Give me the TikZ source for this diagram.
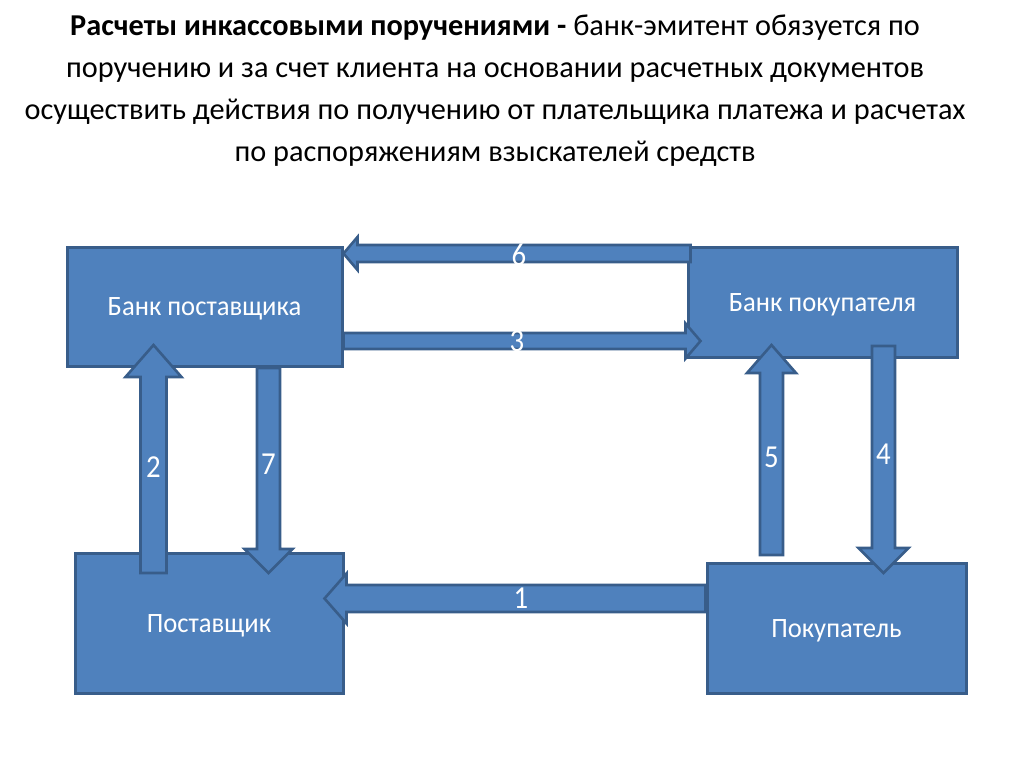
\documentclass[tikz,border=0pt]{standalone}
\usepackage{fontspec}
\setmainfont{Carlito}
\newfontfamily\boxfont{Carlito}[FakeStretch=0.95]
\newfontfamily\numfont{Carlito}[FakeStretch=0.9]
\usetikzlibrary{calc}
\definecolor{boxfill}{HTML}{4F81BD}
\definecolor{boxline}{HTML}{385D8A}
\tikzset{
  box/.style={rectangle, draw=boxline, fill=boxfill, line width=3pt, text=white, font=\boxfont\fontsize{28}{30}\selectfont, inner sep=0pt, text height=18pt, text depth=0pt},
  blk/.style={draw=boxline, fill=boxfill, line width=2.6pt, line join=miter},
  num/.style={text=white, font=\numfont\fontsize{32}{32}\selectfont, inner sep=0pt, text height=20pt, text depth=0pt},
  ttl/.style={anchor=base, font=\fontsize{30.3}{32}\selectfont, inner sep=0pt},
}
\newcommand\blockarr[5]{%
  \coordinate (hb) at ($(#2)!#5pt!(#1)$);
  \draw[blk] ($(#1)!#3pt!90:(#2)$) -- ($(hb)!#3pt!90:(#2)$) -- ($(hb)!#4pt!90:(#2)$) -- (#2)
    -- ($(hb)!#4pt!-90:(#2)$) -- ($(hb)!#3pt!-90:(#2)$) -- ($(#1)!#3pt!-90:(#2)$) -- cycle;}
\begin{document}
\begin{tikzpicture}[x=1pt,y=-1pt]
\useasboundingbox (0,0) rectangle (1024,767);
% title
\node[ttl] (t1) at (495,36) {\textbf{Расчеты инкассовыми поручениями -} банк-эмитент обязуется по};
\node[ttl] (t2) at (495,78) {поручению и за счет клиента на основании расчетных документов};
\node[ttl] (t3) at (495,120) {осуществить действия по получению от плательщика платежа и расчетах};
\node[ttl] (t4) at (495,162) {по распоряжениям взыскателей средств};
% boxes
\node[box, minimum width=275pt, minimum height=119pt] (bps) at (204.5,306.5) {Банк поставщика};
\node[box, minimum width=269pt, minimum height=110pt] (bpk) at (822.5,302) {Банк покупателя};
\node[box, minimum width=268pt, minimum height=140pt] (ps) at (209,623) {Поставщик};
\node[box, minimum width=259pt, minimum height=130pt] (pk) at (836.5,628) {Покупатель};
% arrow end points
\coordinate (a6s) at ([xshift=4pt]bpk.west |- 0,253.5);
\coordinate (a6e) at (bps.east |- 0,253.5);
\coordinate (a3s) at (bps.east |- 0,341);
\coordinate (a3e) at ([xshift=14pt]bpk.west |- 0,341);
\coordinate (a1s) at (pk.west |- 0,598.5);
\coordinate (a1e) at ([xshift=-20pt]ps.east |- 0,598.5);
\coordinate (a2s) at (153.5,573);
\coordinate (a2e) at (153.5,345);
\coordinate (a7s) at (268.5,368);
\coordinate (a7e) at (268.5,573);
\coordinate (a5s) at (771.5,555);
\coordinate (a5e) at (771.5,345);
\coordinate (a4s) at (883.5,346);
\coordinate (a4e) at (883.5,573);
% block arrows
\blockarr{a6s}{a6e}{8.5}{16.5}{14}
\blockarr{a3s}{a3e}{8}{17.5}{15}
\blockarr{a1s}{a1e}{13.5}{25}{22}
\blockarr{a2s}{a2e}{13}{28}{32}
\blockarr{a7s}{a7e}{11.5}{24}{24}
\blockarr{a5s}{a5e}{11.5}{24.5}{28}
\blockarr{a4s}{a4e}{11.5}{25}{25}
% labels
\node[num] (n6) at (519,255) {6};
\node[num] (n3) at (517,341.5) {3};
\node[num] (n1) at (521,598.5) {1};
\node[num] (n2) at (153.5,467) {2};
\node[num] (n7) at (268.5,464) {7};
\node[num] (n5) at (771.5,457) {5};
\node[num] (n4) at (883.5,454) {4};
\end{tikzpicture}
\end{document}
